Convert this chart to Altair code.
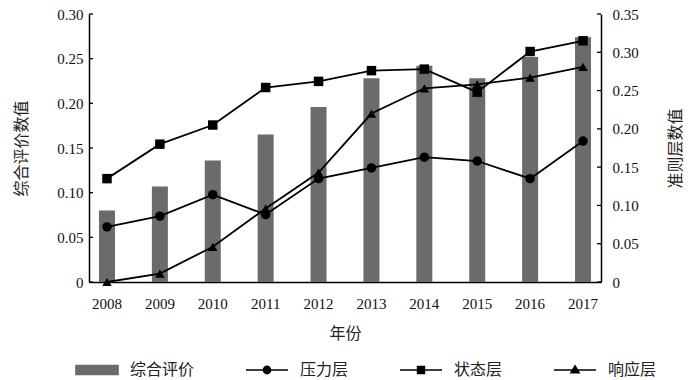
import altair as alt
import pandas as pd

# ---- data ----
years = ["2008", "2009", "2010", "2011", "2012", "2013", "2014", "2015", "2016", "2017"]
composite = [0.080, 0.107, 0.136, 0.165, 0.196, 0.228, 0.242, 0.228, 0.252, 0.274]
pressure = [0.072, 0.086, 0.114, 0.088, 0.135, 0.149, 0.163, 0.158, 0.135, 0.184]
state = [0.135, 0.180, 0.205, 0.254, 0.262, 0.276, 0.278, 0.248, 0.301, 0.315]
response = [0.000, 0.011, 0.046, 0.096, 0.143, 0.220, 0.253, 0.258, 0.267, 0.281]
series_names = ["压力层", "状态层", "响应层"]
series_shapes = ["circle", "square", "triangle-up"]
legend_items = ["综合评价", "压力层", "状态层", "响应层"]
left_ticks = [0, 0.05, 0.10, 0.15, 0.20, 0.25, 0.30]
right_ticks = [0, 0.05, 0.10, 0.15, 0.20, 0.25, 0.30, 0.35]

BAR_GRAY = "#6b6b6b"
NUM_FONT = "Liberation Serif"
CJK_FONT = "Noto Sans CJK SC"

bar_df = pd.DataFrame({"年份": years, "综合评价": composite})
line_df = pd.DataFrame({
    "年份": years * 3,
    "系列": [s for s in series_names for _ in years],
    "数值": pressure + state + response,
})
legend_df = pd.DataFrame({"图例": legend_items})

label_expr = "datum.value == 0 ? '0' : format(datum.value, '.2f')"

x_enc = alt.X(
    "年份:O",
    scale=alt.Scale(type="band", paddingInner=0.7, paddingOuter=0.19),
    axis=alt.Axis(
        title="年份", labelAngle=0, ticks=False, labelPadding=14, titlePadding=14,
        domainColor="black", domainWidth=1.5, grid=False,
    ),
)

# ---- left group: bars + inner ticks ----
y_left = alt.Y(
    "综合评价:Q",
    scale=alt.Scale(domain=[0, 0.30], nice=False),
    axis=alt.Axis(
        orient="left", values=left_ticks, ticks=False, labelPadding=6, grid=False,
        labelOverlap=False, domainColor="black", domainWidth=1.5, labelExpr=label_expr,
        title="综合评价数值", titlePadding=27,
    ),
)
bars = alt.Chart(bar_df).mark_bar(color=BAR_GRAY, size=16).encode(x=x_enc, y=y_left)
left_tick_marks = alt.Chart(pd.DataFrame({"综合评价": left_ticks})).mark_rule(
    color="black", strokeWidth=1.3
).encode(y=alt.Y("综合评价:Q"), x=alt.value(0), x2=alt.value(4))
left_group = alt.layer(bars, left_tick_marks)

# ---- right group: lines, markers, inner ticks, legend ----
y_right = alt.Y(
    "数值:Q",
    scale=alt.Scale(domain=[0, 0.35], nice=False),
    axis=alt.Axis(
        orient="right", values=right_ticks, ticks=False, labelPadding=11, grid=False,
        labelOverlap=False, domainColor="black", domainWidth=1.5, labelExpr=label_expr,
        title="准则层数值", titlePadding=45, titleAngle=270,
    ),
)
lines = alt.Chart(line_df).mark_line(color="black", strokeWidth=1.8).encode(
    x=x_enc, y=y_right, detail="系列:N"
)
point_layers = []
for name, shp in zip(series_names, series_shapes):
    point_layers.append(
        alt.Chart(line_df).transform_filter(alt.datum["系列"] == name)
        .mark_point(shape=shp, filled=True, color="black", size=90, opacity=1)
        .encode(x=x_enc, y=y_right)
    )
right_tick_marks = alt.Chart(pd.DataFrame({"数值": right_ticks})).mark_rule(
    color="black", strokeWidth=1.3
).encode(y=y_right, x=alt.value(508), x2=alt.value(512))

legend_paths = [
    "M-5.25,-1.1H5.25V1.1H-5.25Z",
    "M-5.25,0H5.25M0.9,0A0.9,0.9,0,1,1,-0.9,0A0.9,0.9,0,1,1,0.9,0Z",
    "M-5.25,0H5.25M-0.85,-0.85H0.85V0.85H-0.85Z",
    "M-5.25,0H5.25M0,-1L1,0.7H-1Z",
]
legend_colors = [BAR_GRAY, "black", "black", "black"]
leg = alt.Legend(
    title=None, orient="none", legendX=0, legendY=348, direction="horizontal",
    columns=4, columnPadding=47, symbolSize=64, symbolStrokeWidth=1.6,
    labelOffset=25, labelFont=CJK_FONT, labelFontSize=16, labelColor="#222222",
)
legend_layer = alt.Chart(legend_df).transform_filter("false").mark_point(
    filled=True, opacity=1, strokeWidth=1.6
).encode(
    shape=alt.Shape("图例:N", scale=alt.Scale(domain=legend_items, range=legend_paths), legend=leg),
    fill=alt.Fill("图例:N", scale=alt.Scale(domain=legend_items, range=legend_colors), legend=leg),
    stroke=alt.Stroke("图例:N", scale=alt.Scale(domain=legend_items, range=legend_colors), legend=leg),
)

right_group = alt.layer(lines, *point_layers, right_tick_marks, legend_layer)

chart = (
    alt.layer(left_group, right_group)
    .resolve_scale(y="independent")
    .properties(
        width=512, height=268,
        autosize=alt.AutoSizeParams(type="none"),
        padding={"left": 81, "top": 6, "right": 91, "bottom": 98},
    )
    .configure_view(stroke=None)
    .configure_axis(
        labelFont=NUM_FONT, labelFontSize=15, labelColor="#111111",
        titleFont=CJK_FONT, titleFontSize=16, titleFontWeight="normal", titleColor="#222222",
    )
)

chart.save("out.html", embed_options={"renderer": "svg", "actions": False})
